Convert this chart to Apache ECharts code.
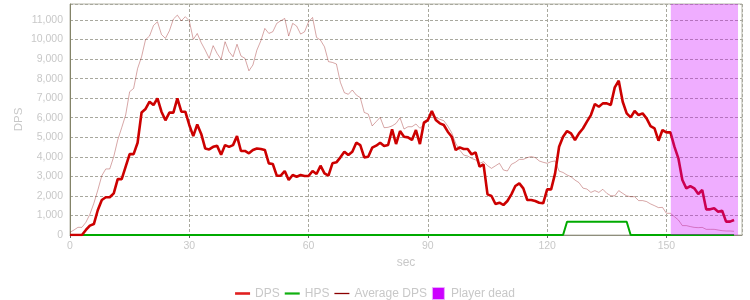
<!DOCTYPE html>
<html>
<head>
<meta charset="utf-8">
<script src="https://cdn.jsdelivr.net/npm/echarts@6/dist/echarts.min.js"></script>
<style>html,body{margin:0;padding:0;background:#fff}#c{width:750px;height:300px}</style>
</head>
<body>
<div id="c"></div>
<script>
// DPS per second (t = 0 .. 167)
var dps = [
  0, 0, 0, 0, 256, 480, 560, 1280, 1790, 1930,
  1930, 2130, 2860, 2860, 3500, 4140, 4140, 4720, 6270, 6450,
  6820, 6650, 6990, 6310, 5870, 6260, 6260, 6990, 6310, 6310,
  5630, 5060, 5660, 5170, 4430, 4380, 4510, 4560, 4110, 4600,
  4510, 4600, 5060, 4300, 4300, 4180, 4350, 4430, 4400, 4350,
  3666, 3632, 3035, 3035, 3274, 2813, 3069, 2984, 3069, 3018,
  3018, 3274, 3120, 3546, 3150, 3035, 3666, 3717, 3973, 4262,
  4092, 4262, 4723, 4603, 3973, 4007, 4467, 4569, 4723, 4552,
  4603, 5405, 4655, 5320, 5030, 4996, 4859, 5371, 4655, 5746,
  5882, 6343, 5882, 5712, 5627, 5286, 5030, 4348, 4484, 4399,
  4399, 4126, 4228, 3495, 3615, 2080, 1995, 1586, 1654, 1535,
  1739, 2080, 2506, 2643, 2387, 1790, 1790, 1739, 1654, 1620,
  2336, 2336, 3154, 4518, 5030, 5320, 5200, 4859, 5200, 5450,
  5797, 6138, 6701, 6564, 6735, 6735, 6650, 7553, 7894, 6820,
  6223, 6019, 6343, 6138, 6223, 5968, 5575, 5456, 4825, 5371,
  5251, 5251, 4518, 3922, 2813, 2387, 2506, 2387, 2097, 2302,
  1313, 1313, 1364, 1194, 1245, 682, 682, 767
];
// HPS per second
var hps = [
  0,0,0,0,0,0,0,0,0,0, 0,0,0,0,0,0,0,0,0,0,
  0,0,0,0,0,0,0,0,0,0, 0,0,0,0,0,0,0,0,0,0,
  0,0,0,0,0,0,0,0,0,0, 0,0,0,0,0,0,0,0,0,0,
  0,0,0,0,0,0,0,0,0,0, 0,0,0,0,0,0,0,0,0,0,
  0,0,0,0,0,0,0,0,0,0, 0,0,0,0,0,0,0,0,0,0,
  0,0,0,0,0,0,0,0,0,0, 0,0,0,0,0,0,0,0,0,0,
  0,0,0,0,0,680,680,680,680,680, 680,680,680,680,680,680,680,680,680,680,
  680,0,0,0,0,0,0,0,0,0, 0,0,0,0,0,0,0,0,0,0,
  0,0,0,0,0,0,0,0
];
// Average DPS per second
var avgDps = [
  136, 256, 392, 392, 650, 1060, 1620, 2300, 3035, 3380,
  3380, 4010, 4860, 5490, 6140, 7330, 7500, 8520, 9120, 10000,
  10180, 10720, 10910, 10260, 10060, 10450, 11050, 11250, 10960, 11170,
  10960, 10010, 10310, 9840, 9460, 9040, 9690, 9290, 8990, 9890,
  9380, 9120, 9760, 9160, 9040, 8400, 8700, 9460, 9940, 10570,
  10315, 10400, 10830, 10960, 11080, 10180, 10830, 10690, 10280, 10400,
  10910, 11130, 10110, 9970, 9630, 8870, 8830, 8750, 7810, 7280,
  7200, 7420, 7160, 7030, 6270, 6190, 5580, 5800, 6020, 5490,
  5510, 5580, 5710, 6000, 5420, 5540, 5540, 5680, 5460, 5630,
  5850, 6140, 6020, 5920, 5850, 5575, 5230, 4690, 4350, 4090,
  4040, 3920, 3840, 3670, 3750, 3550, 3410, 3540, 3670, 3325,
  3275, 3615, 3720, 3870, 3870, 3960, 4010, 3960, 3790, 3720,
  3670, 3750, 3790, 3270, 3200, 3070, 2980, 2810, 2680, 2400,
  2350, 2180, 2270, 2180, 2340, 2130, 2010, 2000, 2270, 2130,
  2000, 1960, 1960, 1760, 1760, 1710, 1590, 1500, 1400, 1415,
  1110, 1110, 940, 770, 480, 480, 430, 390, 375, 390,
  290, 290, 290, 255, 220, 205, 205, 190
];
// Player dead intervals [start sec, end sec]
var deadIntervals = [[151.1, 168]];
var xTicks = [0, 30, 60, 90, 120, 150];
var seriesNames = ['DPS', 'HPS', 'Average DPS', 'Player dead'];

function pairs(arr) { return arr.map(function (v, i) { return [i, v]; }); }

var font = "'Liberation Sans', Arial, sans-serif";
var chart = echarts.init(document.getElementById('c'), null, {renderer: 'canvas'});
chart.setOption({
  animation: false,
  grid: {left: 70, right: 8, top: 4, bottom: 65, show: true, borderColor: '#b4b4a6', borderWidth: 1, backgroundColor: 'transparent'},
  legend: {
    top: 282, left: 'center', itemWidth: 15, itemHeight: 12, itemGap: 5,
    textStyle: {color: '#c8c8c8', fontSize: 12, fontFamily: font},
    data: [
      {name: 'DPS', icon: 'path://M0,0H15V2.6H0Z', itemStyle: {color: '#e02020'}},
      {name: 'HPS', icon: 'path://M0,0H15V2.2H0Z', itemStyle: {color: '#10b010'}},
      {name: 'Average DPS', icon: 'path://M0,0H15V1.3H0Z', itemStyle: {color: '#8b0000', opacity: 1}},
      {name: 'Player dead', icon: 'path://M0,0H12V12H0Z', itemStyle: {color: '#cc00ff', borderColor: '#e8a8ff', borderWidth: 1}}
    ]
  },
  xAxis: {
    type: 'value', min: 0, max: 169, interval: 30,
    name: 'sec', nameLocation: 'middle', nameGap: 22, nameMoveOverlap: false,
    nameTextStyle: {color: '#c8c8c8', fontSize: 12, fontFamily: font},
    axisLine: {show: true, lineStyle: {color: '#8e8e7c', width: 1}},
    axisTick: {show: true, length: 3, lineStyle: {color: '#666'}},
    axisLabel: {color: '#c8c8c8', fontSize: 10.5, fontFamily: font, margin: 6, showMaxLabel: false,
      formatter: function (v) { return xTicks.indexOf(v) >= 0 ? String(v) : ''; }},
    splitLine: {show: true, lineStyle: {color: '#a8a89e', type: [3, 2], width: 1}}
  },
  yAxis: {
    type: 'value', min: 0, max: 11820, interval: 1000,
    name: 'DPS', nameLocation: 'middle', nameGap: 45, nameMoveOverlap: false,
    nameTextStyle: {color: '#c8c8c8', fontSize: 11.5, fontFamily: font},
    axisLine: {show: true, lineStyle: {color: '#838368', width: 1}},
    axisTick: {show: false},
    axisLabel: {color: '#c8c8c8', fontSize: 10.5, fontFamily: font, margin: 7, showMaxLabel: false,
      formatter: function (v) { return v.toLocaleString('en-US'); }},
    splitLine: {show: true, lineStyle: {color: '#a8a89e', type: [3, 2], width: 1}}
  },
  series: [
    {name: seriesNames[0], type: 'line', data: pairs(dps), showSymbol: false, symbol: 'none', z: 4,
      itemStyle: {color: '#cc0000'}, lineStyle: {color: '#cc0000', width: 2.6}},
    {name: seriesNames[1], type: 'line', data: pairs(hps), showSymbol: false, symbol: 'none', z: 3,
      itemStyle: {color: '#00aa00'}, lineStyle: {color: '#00aa00', width: 2}},
    {name: seriesNames[2], type: 'line', data: pairs(avgDps), showSymbol: false, symbol: 'none', z: 2,
      itemStyle: {color: '#8b0000'}, lineStyle: {color: '#8b0000', width: 1, opacity: 0.35}},
    {name: seriesNames[3], type: 'custom', z: 10, data: deadIntervals,
      itemStyle: {color: '#cc00ff'},
      encode: {x: [0, 1]},
      renderItem: function (params, api) {
        var a = api.coord([api.value(0), 0]);
        var b = api.coord([api.value(1), 0]);
        var cs = params.coordSys;
        return {type: 'rect', shape: {x: a[0], y: cs.y, width: b[0] - a[0], height: cs.height},
          style: {fill: 'rgba(204,0,255,0.32)'}};
      }}
  ]
});
</script>
</body>
</html>
